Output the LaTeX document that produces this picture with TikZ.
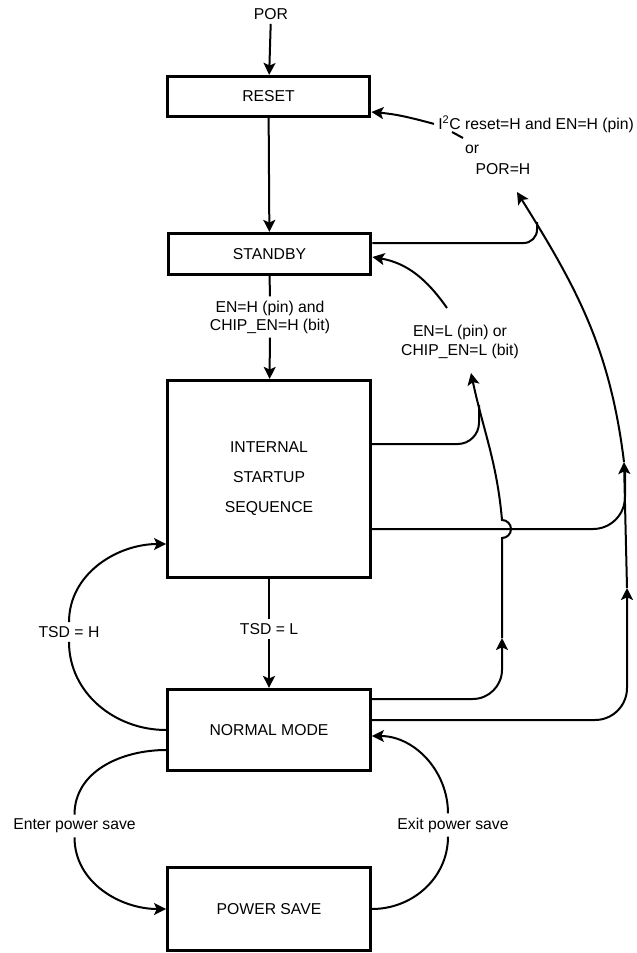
\documentclass[tikz,border=0pt]{standalone}
\usepackage{fontspec}
\setmainfont{Liberation Sans}
\usetikzlibrary{arrows.meta}

\begin{document}
\begin{tikzpicture}[x=0.75pt,y=-0.75pt,
  every node/.style={font=\fontsize{11.8pt}{14pt}\selectfont},
  state/.style={draw, line width=2.4pt, minimum width=152pt, inner sep=0pt, align=center},
  cond/.style={inner sep=3pt, align=center},
  link/.style={line width=1.5pt},
  arr/.style={line width=1.5pt, -{Stealth[length=9pt,width=9pt,inset=2pt]}}
]
\useasboundingbox (0,0) rectangle (636,953);

% states
\node[state, minimum height=30pt] (reset) at (268.5,96.5) {RESET};
\node[state, minimum height=30.75pt] (standby) at (269.5,254) {STANDBY};
\node[state, minimum height=147.75pt, font=\fontsize{11.8pt}{22.5pt}\selectfont] (startup) at (269,479) {INTERNAL\\STARTUP\\SEQUENCE};
\node[state, minimum height=60.75pt] (normal) at (269,730) {NORMAL MODE};
\node[state, minimum height=62.25pt] (powersave) at (269,909) {POWER SAVE};

% conditions
\node[cond] (por) at (271,14) {POR};
\node[cond, font=\fontsize{11.8pt}{13.5pt}\selectfont] (enh) at (270,317) {EN=H (pin) and\\CHIP\_EN=H (bit)};
\node[cond] (tsdl) at (269,629) {TSD = L};
\node[cond] (tsdh) at (69,632) {TSD = H};
\node[cond] (enterps) at (74.5,826) {Enter power save};
\node[cond] (exitps) at (453,825) {Exit power save};
\node[cond, font=\fontsize{11.8pt}{14.25pt}\selectfont] (enl) at (460,342) {EN=L (pin) or\\CHIP\_EN=L (bit)};
\node[cond, anchor=base west] (i2c) at (434,129) {I\textsuperscript{2}C reset=H and EN=H (pin)};
\node[cond, anchor=base] (orlbl) at (472,153) {or};
\node[cond, anchor=base] (porh) at (503,174) {POR=H};

% free ends and joins
\coordinate (porhtip) at (517,192);
\coordinate (enltip) at (471,373);
\coordinate (enlfoot) at (447,308);
\coordinate (upA) at (502,638);  %<-- arrow on the middle riser
\coordinate (upB) at (627,588);  %<-- arrows on the outer riser
\coordinate (upC) at (624,462);
\coordinate (hop) at (502,529);  %<-- riser jumps over the lower line here
\coordinate (joinA) at (479,405);
\coordinate (joinB) at (625,470);
\coordinate (joinC) at (537,222);
\coordinate (tickA) at (452,132);
\coordinate (tickB) at (463,138);

% main column
\draw[arr] (por) -- (reset);
\draw[arr] (reset) -- (standby);
\draw[link] (standby) -- (enh);
\draw[arr] (enh) -- (startup);
\draw[link] (startup) -- (tsdl);
\draw[arr] (tsdl) -- (normal);

% left loops
\draw[link] (normal.west) to[out=180,in=-90] (tsdh.south);
\draw[arr] (tsdh.north) to[out=90,in=180] (startup.west |- 0,544);
\draw[link] (normal.west |- 0,750) to[out=180,in=90] (enterps.north);
\draw[arr] (enterps.south) to[out=-90,in=180] (powersave.west);
\draw[link] (powersave.east) to[out=0,in=-90] ([xshift=-3.75pt]exitps.south);
\draw[arr] ([xshift=-3.75pt]exitps.north) to[out=90,in=0] (normal.east |- 0,736);

% right side
\draw[arr] (i2c.west) to[out=165,in=-5] (reset.east |- 0,112);
\draw[link] (tickA) -- (tickB);
\draw[arr] (enlfoot) to[out=125,in=-10] (standby.east |- 0,257);
\draw[arr, rounded corners=22pt] (normal.east |- 0,699) -| (upA);
\draw[arr] (upA) -- ([yshift=-6.75pt]hop) arc[start angle=-90,end angle=90,radius=6.75pt] to[out=95,in=-78] (enltip);
\draw[link, rounded corners=16pt] (startup.east |- 0,444) -| (joinA);
\draw[arr, rounded corners=24pt] (normal.east |- 0,720) -| (upB);
\draw[arr] (upB) -- (upC);
\draw[arr] (upC) to[out=97,in=-58] (porhtip);
\draw[link, rounded corners=24pt] (startup.east |- 0,529) -| (joinB);
\draw[link, rounded corners=10pt] (standby.east |- 0,243) -| (joinC);
\end{tikzpicture}
\end{document}
